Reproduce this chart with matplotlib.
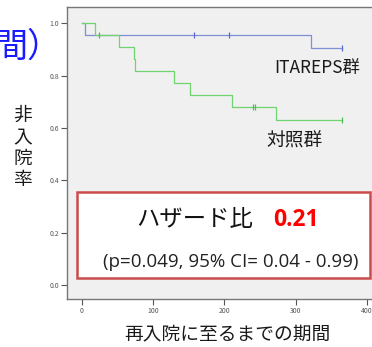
import matplotlib
matplotlib.use("Agg")
import matplotlib.pyplot as plt
from matplotlib.patches import Rectangle

plt.rcParams['font.family'] = ['Noto Sans CJK JP', 'DejaVu Sans']

# ---- data ----
ita_t = [0, 5, 322, 365]
ita_s = [1.0, 0.955, 0.905, 0.905]
ita_cens_t = [158, 206, 365]
ita_cens_s = [0.955, 0.955, 0.905]

ctrl_t = [0, 19, 52, 73.5, 75, 130, 152, 210, 272, 365]
ctrl_s = [1.0, 0.955, 0.909, 0.864, 0.818, 0.773, 0.727, 0.682, 0.63, 0.63]
ctrl_cens_t = [24, 240, 243, 365]
ctrl_cens_s = [0.955, 0.682, 0.682, 0.63]

xticks = [0, 100, 200, 300, 400]
yticks = [0.0, 0.2, 0.4, 0.6, 0.8, 1.0]
ytick_labels = ['0.0', '0.2', '0.4', '0.6', '0.8', '1.0']

W, H = 372, 347
fig = plt.figure(figsize=(W / 100, H / 100), dpi=100)

def fx(x):
    return x / W

def fy(y):
    return 1 - y / H

ax = fig.add_axes([fx(66.7), fy(299), (374.2 - 66.7) / W, (299 - 7) / H])
ax.set_facecolor('#f0f0f0')
ax.set_xlim(-21, 410)
ax.set_ylim(-0.0535, 1.0623)

blue = '#7f8fd6'
green = '#6fd36f'
ax.step(ita_t, ita_s, where='post', color=blue, lw=0.9)
ax.step(ctrl_t, ctrl_s, where='post', color=green, lw=0.9)
ax.plot(ita_cens_t, ita_cens_s, ls='none', marker='|', ms=4, mew=0.9, color='#5a6cc8')
ax.plot(ctrl_cens_t, ctrl_cens_s, ls='none', marker='|', ms=4, mew=0.9, color='#4cbf4c')

ax.set_xticks(xticks)
ax.set_xticklabels([str(t) for t in xticks])
ax.set_yticks(yticks)
ax.set_yticklabels(ytick_labels)
ax.tick_params(axis='both', labelsize=5, colors='#555555', length=4, width=0.8, pad=1.5)
for s in ['left', 'bottom', 'top']:
    ax.spines[s].set_color('#777777')
    ax.spines[s].set_linewidth(1.0)
ax.spines['right'].set_visible(False)

# curve labels
fig.text(fx(274), fy(68), 'ITAREPS群', fontsize=12.5, color='#1a1a1a', ha='left', va='center')
fig.text(fx(266), fy(141), '対照群', fontsize=13.5, color='#1a1a1a', ha='left', va='center')

# box
rect = Rectangle((fx(77), fy(277.5)), fx(370) - fx(77), fy(191.7) - fy(277.5),
                 transform=fig.transFigure, facecolor='white', edgecolor='#c94c4c', lw=1.8)
fig.patches.append(rect)
fig.text(fx(136.7), fy(220), 'ハザード比', fontsize=16.8, color='#111111', ha='left', va='center')
fig.text(fx(273), fy(220), '0.21', fontsize=16.5, color='#ff0000', ha='left', va='center',
         family=['Open Sans', 'DejaVu Sans'], fontweight='bold')
fig.text(fx(103), fy(261.7), '(p=0.049, 95% CI= 0.04 - 0.99)', fontsize=13.5, color='#222222',
         ha='left', va='center', family=['Open Sans', 'DejaVu Sans'])

# axis titles
for ch, yy in zip('非入院率', [115, 137.5, 158.5, 179.5]):
    fig.text(fx(22.5), fy(yy), ch, fontsize=13.5, color='#1a1a1a', ha='center', va='center')
fig.text(fx(227), fy(335), '再入院に至るまでの期間', fontsize=13.5, color='#1a1a1a',
         ha='center', va='center')

# cropped title (cut at the left edge, as in the reference)
fig.text(fx(-6), fy(47), '間）', fontsize=24.5, color='#1a1aff', ha='left', va='center')

fig.savefig('out.png', dpi=100)
